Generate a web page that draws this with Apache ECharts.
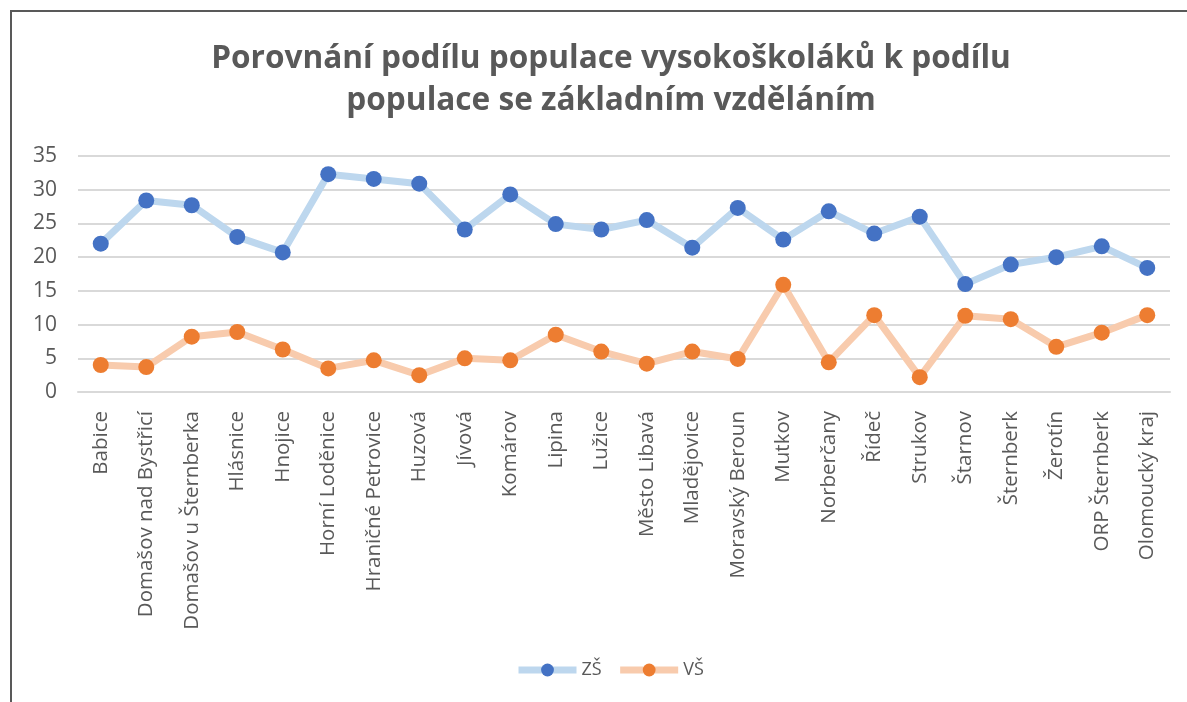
<!DOCTYPE html>
<html>
<head>
<meta charset="utf-8">
<script src="https://cdn.jsdelivr.net/npm/echarts@6/dist/echarts.min.js"></script>
<style>
  html, body { margin: 0; padding: 0; background: #fff; }
  #chart { width: 1187px; height: 702px; }
</style>
</head>
<body>
<div id="chart"></div>
<script>
// obce (kategorie osy x)
const categories = [
  'Babice', 'Domašov nad Bystřicí', 'Domašov u Šternberka', 'Hlásnice', 'Hnojice',
  'Horní Loděnice', 'Hraničné Petrovice', 'Huzová', 'Jívová', 'Komárov', 'Lipina',
  'Lužice', 'Město Libavá', 'Mladějovice', 'Moravský Beroun', 'Mutkov', 'Norberčany',
  'Řídeč', 'Strukov', 'Štarnov', 'Šternberk', 'Žerotín', 'ORP Šternberk', 'Olomoucký kraj'
]

// podíl se základním vzděláním (ZŠ)
const zsValues = [
  22.0, 28.4, 27.7, 23.0, 20.7, 32.3, 31.6, 30.9, 24.1, 29.3, 24.9,
  24.1, 25.5, 21.4, 27.3, 22.6, 26.8, 23.5, 26.0, 16.0, 18.9, 20.0, 21.6, 18.4
]

// podíl vysokoškoláků (VŠ)
const vsValues = [
  4.0, 3.7, 8.2, 8.9, 6.3, 3.5, 4.7, 2.5, 5.0, 4.7, 8.5,
  6.0, 4.2, 6.0, 4.9, 15.9, 4.4, 11.4, 2.2, 11.3, 10.8, 6.7, 8.8, 11.4
]

const yTicks = { min: 0, max: 35, interval: 5 }

const textColor = '#595959'
const font = 'Open Sans'

const chart = echarts.init(document.getElementById('chart'))

chart.setOption({
  animation: false,
  graphic: [
    {
      type: 'rect',
      shape: { x: 11, y: 11, width: 1300, height: 800 },
      style: { fill: 'none', stroke: '#595959', lineWidth: 2 },
      silent: true
    }
  ],
  title: {
    text: 'Porovnání podílu populace vysokoškoláků k podílu\npopulace se základním vzděláním',
    left: 606,
    top: 33,
    textAlign: 'center',
    textStyle: {
      fontFamily: font,
      fontSize: 31.6,
      fontWeight: 'bold',
      lineHeight: 42,
      color: textColor
    }
  },
  legend: {
    left: 510,
    top: 656,
    itemWidth: 58,
    itemHeight: 16,
    itemGap: 15,
    lineStyle: { width: 7 },
    textStyle: { fontFamily: font, fontSize: 18, color: textColor },
    data: ['ZŠ', 'VŠ']
  },
  grid: {
    left: 78,
    right: 17,
    top: 156,
    bottom: 310
  },
  xAxis: {
    type: 'category',
    data: categories,
    boundaryGap: true,
    axisLine: { lineStyle: { color: '#d9d9d9', width: 2 } },
    axisTick: { show: false },
    axisLabel: {
      rotate: 90,
      interval: 0,
      margin: 19,
      fontFamily: font,
      fontSize: 20.5,
      color: textColor
    }
  },
  yAxis: {
    type: 'value',
    min: yTicks.min,
    max: yTicks.max,
    interval: yTicks.interval,
    axisLine: { show: false },
    axisTick: { show: false },
    axisLabel: { fontFamily: font, fontSize: 21, color: textColor, margin: 21 },
    splitLine: { lineStyle: { color: '#d9d9d9', width: 2 } }
  },
  series: [
    {
      name: 'ZŠ',
      type: 'line',
      data: zsValues,
      symbol: 'circle',
      symbolSize: 16,
      lineStyle: { color: '#bdd7ee', width: 7 },
      itemStyle: { color: '#4472c4' }
    },
    {
      name: 'VŠ',
      type: 'line',
      data: vsValues,
      symbol: 'circle',
      symbolSize: 16,
      lineStyle: { color: '#f8cbad', width: 7 },
      itemStyle: { color: '#ed7d31' }
    }
  ]
})
</script>
</body>
</html>
